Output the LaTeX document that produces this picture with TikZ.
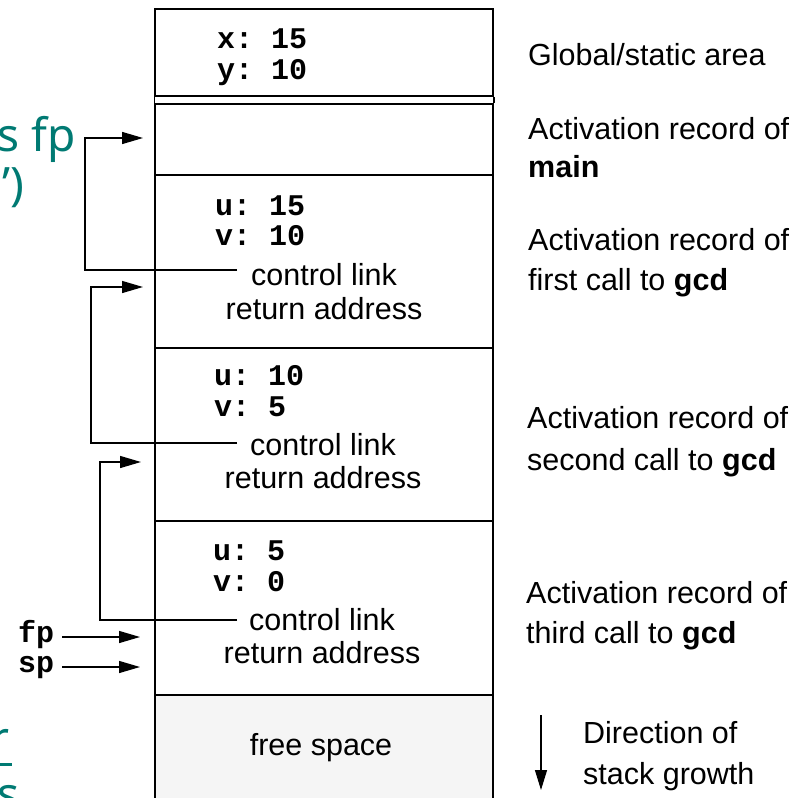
\documentclass[tikz,border=0pt]{standalone}
\usepackage{fontspec}
\setmainfont{Liberation Sans}
\setmonofont{Liberation Mono}
\newfontfamily\handfont{Noto Sans}
\usetikzlibrary{arrows.meta,calc}
\definecolor{annot}{HTML}{007A73}
\tikzset{
  rec/.style={draw, line width=1.5pt, minimum width=338pt, inner sep=0pt},
  mono/.style={anchor=base west, inner sep=0pt, font=\fontsize{30}{30}\selectfont\ttfamily\bfseries},
  sans/.style={anchor=base west, inner sep=0pt, font=\fontsize{30.5}{30.5}\selectfont},
  link/.style={line width=1.4pt, -{Triangle[length=21pt,width=12pt]}},
  hand/.style={anchor=base east, inner sep=0pt, text=annot, font=\fontsize{46}{46}\selectfont\handfont},
}
\begin{document}
\begin{tikzpicture}[x=1pt,y=-1pt]
\useasboundingbox (0,0) rectangle (804,798);
% stack records
\node[rec, minimum height=87pt] (glob) at (324,52.5) {};
\node[rec, minimum height=71pt] (mainrec) at (324,139.5) {};
\node[rec, minimum height=173pt] (gcda) at (324,261.5) {};
\node[rec, minimum height=173pt] (gcdb) at (324,434.5) {};
\node[rec, minimum height=174pt] (gcdc) at (324,608) {};
\node[rec, fill=gray!8, minimum height=120pt] (free) at (324,755) {};
\draw[line width=1.5pt] (glob.south west) -- (mainrec.north west);
\draw[line width=1.5pt] (glob.south east) -- (mainrec.north east);
% record contents
\node[mono] (x) at (217,48) {x: 15};
\node[mono] (y) at (217,79) {y: 10};
\node[mono] (ua) at (215,215) {u: 15};
\node[mono] (va) at (215,245) {v: 10};
\node[sans, anchor=base] (cla) at (324,285) {control link};
\node[sans, anchor=base] (raa) at (324,319) {return address};
\node[mono] (ub) at (214,385) {u: 10};
\node[mono] (vb) at (214,416) {v: 5};
\node[sans, anchor=base] (clb) at (323,455) {control link};
\node[sans, anchor=base] (rab) at (323,488) {return address};
\node[mono] (uc) at (213,560) {u: 5};
\node[mono] (vc) at (213,591) {v: 0};
\node[sans, anchor=base] (clc) at (322,630) {control link};
\node[sans, anchor=base] (rac) at (322,663) {return address};
\node[sans, anchor=base] (fs) at (321,755) {free space};
% control links
\coordinate (ca) at (237,270);
\coordinate (ta) at (143,138);
\coordinate (cb) at (237,443);
\coordinate (tb) at (143,287);
\coordinate (cc) at (237,620);
\coordinate (tc) at (141,462);
\draw[link] (ca) -- ++(-152,0) |- (ta);
\draw[link] (cb) -- ++(-146,0) |- (tb);
\draw[link] (cc) -- ++(-137,0) |- (tc);
% fp, sp
\node[mono] (fp) at (18,642) {fp};
\node[mono] (sp) at (18,672) {sp};
\coordinate (fpt) at (140,637);
\coordinate (spt) at (140,667);
\draw[link] (fpt -| 62,0) -- (fpt);
\draw[link] (spt -| 62,0) -- (spt);
% right labels
\node[sans] (lg) at (528,65) {Global/static area};
\node[sans] (lm1) at (528,139) {Activation record of};
\node[sans] (lm2) at (528,177) {\bfseries main};
\node[sans] (la1) at (528,250) {Activation record of};
\node[sans] (la2) at (528,290) {first call to \bfseries gcd};
\node[sans] (lb1) at (527,428) {Activation record of};
\node[sans] (lb2) at (527,470) {second call to \bfseries gcd};
\node[sans] (lc1) at (526,603) {Activation record of};
\node[sans] (lc2) at (526,643) {third call to \bfseries gcd};
% direction of growth
\coordinate (dtop) at (541,715);
\coordinate (dbot) at (541,790);
\draw[line width=1.3pt, -{Triangle[length=20pt,width=12pt]}] (dtop) -- (dbot);
\node[sans] (d1) at (583,743) {Direction of};
\node[sans] (d2) at (583,784) {stack growth};
% handwritten annotation fragments
\node[hand] (h1) at (76,151) {s fp};
\node[hand] (h2) at (25,200) {’)};
\node[hand] (h3) at (10,754) {r};
\draw[annot, line width=3pt] (0,764) -- (12,764);
\node[hand] (h4) at (20,810) {s};
\end{tikzpicture}
\end{document}
